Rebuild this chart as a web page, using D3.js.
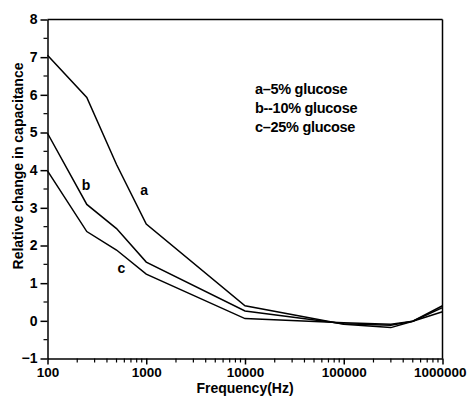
<!DOCTYPE html>
<html><head><meta charset="utf-8">
<script src="https://cdn.jsdelivr.net/npm/d3@7"></script>
<style>body{margin:0;background:#fff;} text{font-family:Arial,"Liberation Sans",sans-serif;font-weight:bold;}</style>
</head><body>
<svg id="c" width="467" height="401"></svg>
<script>
const freqs = [100, 250, 500, 1000, 10000, 100000, 300000, 500000, 1000000];
const seriesA = [7.05, 5.93, 4.15, 2.57, 0.40, -0.09, -0.18, -0.01, 0.40];
const seriesB = [4.98, 3.09, 2.45, 1.56, 0.26, -0.08, -0.12, -0.01, 0.35];
const seriesC = [3.98, 2.37, 1.88, 1.24, 0.06, -0.05, -0.09, -0.01, 0.24];
const seriesNames = ["a", "b", "c"];
const legendLines = ["a\u20135% glucose", "b--10% glucose", "c\u201325% glucose"];
const xTickValues = [100, 1000, 10000, 100000, 1000000];
const yTickValues = [-1, 0, 1, 2, 3, 4, 5, 6, 7, 8];
const labelPos = [{f: 950, v: 3.33}, {f: 245, v: 3.48}, {f: 560, v: 1.27}];

const svg = d3.select("#c");
const L = 47.5, R = 442.5, T = 19.5, B = 358.5;
const x = d3.scaleLog().domain([100, 1000000]).range([L, R]);
const y = d3.scaleLinear().domain([-1, 8]).range([B, T]);

const xMinor = [];
for (let d = 100; d < 1000000; d *= 10) for (let k = 2; k <= 9; k++) xMinor.push(d * k);
const yMinor = d3.range(-0.5, 8, 1);

const g = svg.append("g");
g.selectAll(".xm").data(xMinor).join("line")
  .attr("x1", d => x(d)).attr("x2", d => x(d)).attr("y1", B).attr("y2", B + 4)
  .attr("stroke", "#000").attr("stroke-width", 1.2);
g.selectAll(".ym").data(yMinor).join("line")
  .attr("y1", d => y(d)).attr("y2", d => y(d)).attr("x1", L).attr("x2", L - 4)
  .attr("stroke", "#000").attr("stroke-width", 1.2);

const xAxis = d3.axisBottom(x).tickValues(xTickValues).tickFormat(d3.format("d")).tickSizeInner(6).tickSizeOuter(0).tickPadding(3);
const yAxis = d3.axisLeft(y).tickValues(yTickValues).tickFormat(d3.format("d")).tickSizeInner(7).tickSizeOuter(0).tickPadding(3);

const gx = svg.append("g").attr("transform", `translate(0,${B})`).call(xAxis);
gx.selectAll("text").attr("font-size", 13.5).attr("fill", "#000").attr("font-weight", "bold");
gx.selectAll("text").filter(d => d === 1000000).attr("text-anchor", "end").attr("x", 466 - R);
gx.selectAll("line,path").attr("stroke", "#000").attr("stroke-width", 1.5);
const gy = svg.append("g").attr("transform", `translate(${L},0)`).call(yAxis);
gy.selectAll("text").attr("font-size", 14).attr("fill", "#000").attr("font-weight", "bold");
gy.selectAll("line,path").attr("stroke", "#000").attr("stroke-width", 1.5);

svg.append("line").attr("x1", L).attr("x2", R).attr("y1", T).attr("y2", T).attr("stroke", "#000").attr("stroke-width", 1.5);
svg.append("line").attr("x1", R).attr("x2", R).attr("y1", T).attr("y2", B).attr("stroke", "#000").attr("stroke-width", 1.5);

const line = d3.line().x((d, i) => x(freqs[i])).y(d => y(d));
[seriesA, seriesB, seriesC].forEach(s => {
  svg.append("path").attr("d", line(s)).attr("fill", "none").attr("stroke", "#000").attr("stroke-width", 1.5);
});

svg.selectAll(".lbl").data(seriesNames).join("text")
  .attr("x", (d, i) => x(labelPos[i].f)).attr("y", (d, i) => y(labelPos[i].v))
  .attr("text-anchor", "middle").attr("font-size", 14).text(d => d);

svg.selectAll(".leg").data(legendLines).join("text")
  .attr("x", 255).attr("y", (d, i) => 94 + i * 19)
  .attr("font-size", 14.5).attr("letter-spacing", -0.3).text(d => d);

svg.append("text").attr("x", (L + R) / 2).attr("y", 393).attr("text-anchor", "middle")
  .attr("font-size", 14).text("Frequency(Hz)");
svg.append("text").attr("transform", `translate(23,166) rotate(-90)`).attr("text-anchor", "middle")
  .attr("font-size", 14).text("Relative change in capacitance");
</script>
</body></html>
